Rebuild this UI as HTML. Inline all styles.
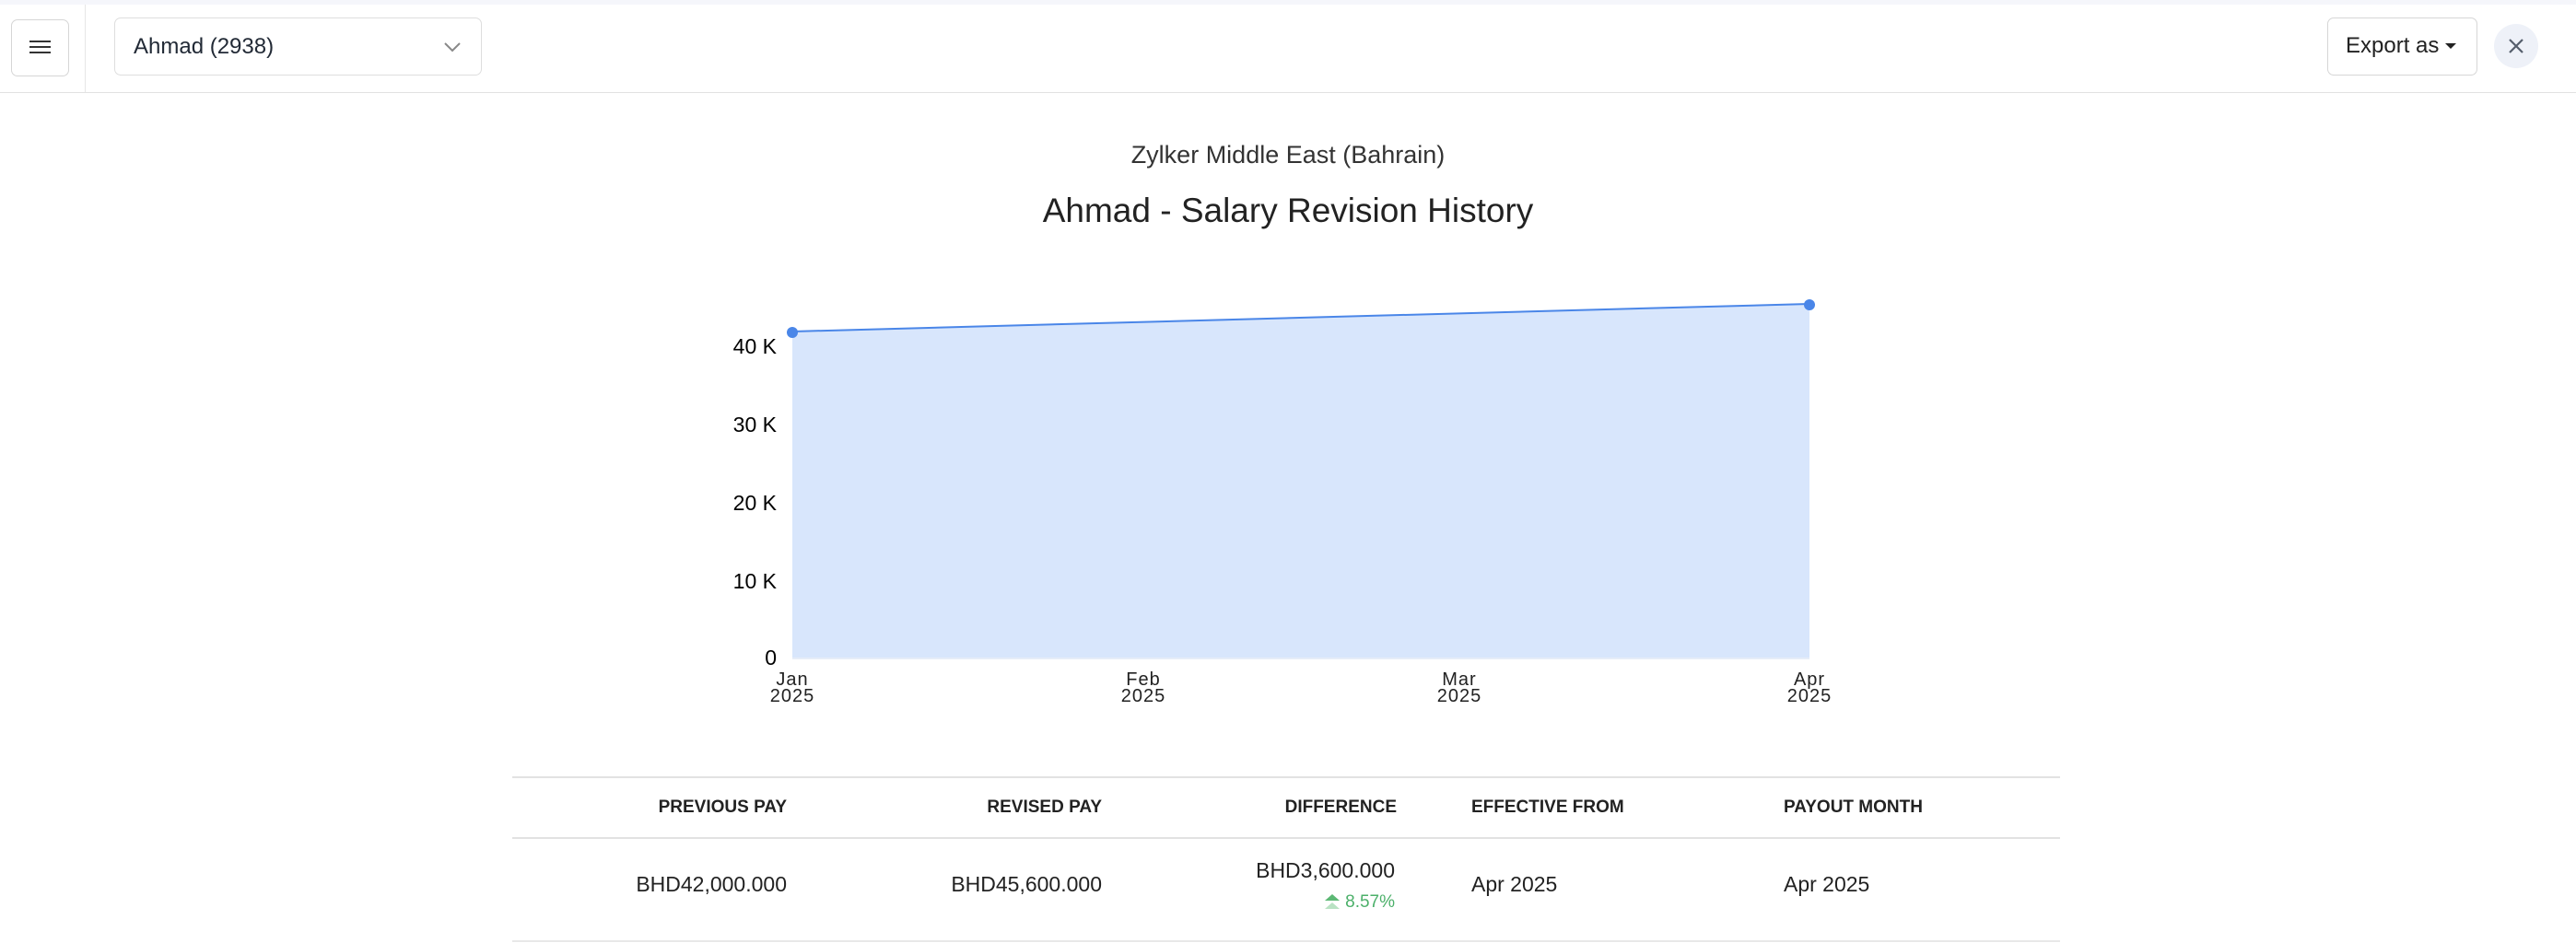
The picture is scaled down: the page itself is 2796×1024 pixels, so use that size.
<!DOCTYPE html>
<html><head><meta charset="utf-8"><style>
*{margin:0;padding:0;box-sizing:border-box}
body{width:2796px;height:1024px;background:#fff;font-family:"Liberation Sans",sans-serif;color:#222;position:relative;overflow:hidden}
.a{position:absolute;white-space:nowrap}
</style></head><body>
<div class="a" style="left:0;top:0;width:2796px;height:5px;background:#f5f6fb"></div>
<div class="a" style="left:0;top:100px;width:2796px;height:1px;background:#e2e2e2"></div>
<div class="a" style="left:92px;top:5px;width:1px;height:95px;background:#e6e6e6"></div>
<div class="a" style="left:12px;top:21px;width:63px;height:62px;border:1px solid #d6d6d6;border-radius:7px"></div>
<div class="a" style="left:32px;top:44px;width:23px;height:2px;background:#333;box-shadow:0 6px 0 #333,0 12px 0 #333"></div>
<div class="a" style="left:124px;top:19px;width:399px;height:63px;border:1px solid #dedede;border-radius:7px"></div>
<div class="a" style="left:145px;top:37px;font-size:24px;color:#222a36;line-height:28px">Ahmad (2938)</div>
<svg class="a" style="left:480px;top:44px" width="22" height="14"><path d="M3 3 L11 11 L19 3" fill="none" stroke="#888" stroke-width="2"/></svg>
<div class="a" style="left:2526px;top:19px;width:163px;height:63px;border:1px solid #d6d6d6;border-radius:7px"></div>
<div class="a" style="left:2546px;top:36px;font-size:24px;color:#222;line-height:28px">Export as</div>
<svg class="a" style="left:2653px;top:45px" width="14" height="10"><path d="M1 2 L13 2 L7 8Z" fill="#222"/></svg>
<div class="a" style="left:2707px;top:26px;width:48px;height:48px;border-radius:50%;background:#eef1f8"></div>
<svg class="a" style="left:2721px;top:40px" width="20" height="20"><path d="M3 3 L17 17 M17 3 L3 17" stroke="#555e6c" stroke-width="2.2"/></svg>
<div class="a" style="left:0;width:2796px;top:153px;text-align:center;font-size:27px;color:#333;line-height:30px">Zylker Middle East (Bahrain)</div>
<div class="a" style="left:0;width:2796px;top:208px;text-align:center;font-size:37px;color:#222;line-height:42px">Ahmad - Salary Revision History</div>
<svg class="a" style="left:0;top:0" width="2796" height="800">
<g stroke="#eef0f4" stroke-width="1"><line x1="860" y1="629" x2="1964" y2="629"/><line x1="860" y1="544" x2="1964" y2="544"/><line x1="860" y1="459" x2="1964" y2="459"/><line x1="860" y1="374" x2="1964" y2="374"/></g>
<polygon points="860,360 1964,330 1964,714 860,714" fill="#d8e6fc"/>
<line x1="860" y1="715" x2="1964" y2="715" stroke="#e6edf8" stroke-width="2"/>
<line x1="860" y1="360" x2="1964" y2="330" stroke="#4a86e8" stroke-width="2"/>
<circle cx="860" cy="361" r="6" fill="#4a86e8"/><circle cx="1964" cy="331" r="6" fill="#4a86e8"/>
<g font-size="23" fill="#000" text-anchor="end" font-family="Liberation Sans"><text x="843" y="384">40 K</text><text x="843" y="469">30 K</text><text x="843" y="554">20 K</text><text x="843" y="639">10 K</text><text x="843" y="722">0</text></g>
<g font-size="20" fill="#222" text-anchor="middle" font-family="Liberation Sans" letter-spacing="1"><text x="860" y="744">Jan</text><text x="860" y="762">2025</text><text x="1241" y="744">Feb</text><text x="1241" y="762">2025</text><text x="1584" y="744">Mar</text><text x="1584" y="762">2025</text><text x="1964" y="744">Apr</text><text x="1964" y="762">2025</text></g>
</svg>
<div class="a" style="left:556px;top:843px;width:1680px;height:2px;background:#e2e2e2"></div>
<div class="a" style="left:556px;top:909px;width:1680px;height:2px;background:#e2e2e2"></div>
<div class="a" style="left:556px;top:1021px;width:1680px;height:2px;background:#e8e8e8"></div>
<div style="font-size:19px;font-weight:bold;color:#222;line-height:22px">
<div class="a" style="right:1942px;top:866px">PREVIOUS PAY</div>
<div class="a" style="right:1600px;top:866px">REVISED PAY</div>
<div class="a" style="right:1280px;top:866px">DIFFERENCE</div>
<div class="a" style="left:1597px;top:866px">EFFECTIVE FROM</div>
<div class="a" style="left:1936px;top:866px">PAYOUT MONTH</div>
</div>
<div style="font-size:23px;color:#222;line-height:26px">
<div class="a" style="right:1942px;top:947px">BHD42,000.000</div>
<div class="a" style="right:1600px;top:947px">BHD45,600.000</div>
<div class="a" style="right:1282px;top:932px">BHD3,600.000</div>
<div class="a" style="left:1597px;top:947px">Apr 2025</div>
<div class="a" style="left:1936px;top:947px">Apr 2025</div>
</div>
<svg class="a" style="left:1436px;top:969px" width="22" height="22"><path d="M2 9 L10 2 L18 9Z" fill="#5cb874"/><path d="M2 18 L10 11 L18 18Z" fill="#b9e2c3"/></svg>
<div class="a" style="right:1282px;top:969px;font-size:19px;color:#4cb06a;line-height:22px">8.57%</div>
</body></html>
